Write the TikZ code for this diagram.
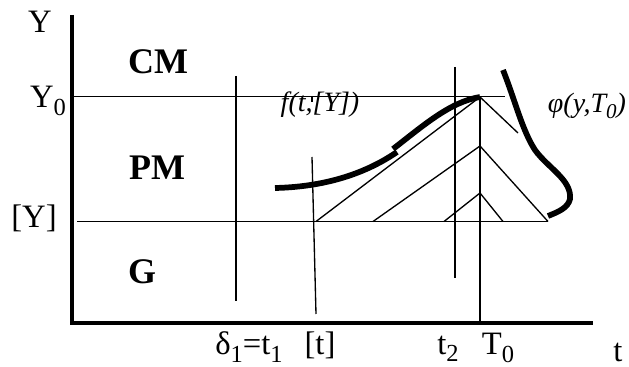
\documentclass[tikz,border=0pt]{standalone}
\usepackage{graphicx}
\usepackage{fontspec}
\setmainfont{Liberation Serif}
\newcommand{\lsub}[1]{\raisebox{-0.22em}{\scalebox{0.75}{#1}}}
\begin{document}
\begin{tikzpicture}[x=0.75pt,y=-0.75pt,
  thinln/.style={line width=1pt},
  axis/.style={line width=2.4pt},
  heavy/.style={line width=4.3pt},
  lbl/.style={inner sep=0pt, font=\fontsize{24.5}{28}\selectfont},
  blbl/.style={inner sep=0pt, font=\fontsize{27}{31}\selectfont\bfseries},
  ilbl/.style={inner sep=0pt, font=\fontsize{21}{25}\selectfont\itshape}]
\useasboundingbox (0,0) rectangle (629,367);
% axes
\coordinate (oy) at (72,15);
\coordinate (o) at (72,323);
\coordinate (ox) at (593,323);
\draw[axis] (oy) -- (o) -- (ox);
% horizontal levels
\coordinate (y0a) at (73,96.5);
\coordinate (y0b) at (505,96.5);
\coordinate (yya) at (77,221.5);
\coordinate (yyb) at (548,221.5);
\draw[thinln] (y0a) -- (y0b);
\draw[thinln] (yya) -- (yyb);
% verticals
\coordinate (d1a) at (236,76);
\coordinate (d1b) at (236,301);
\draw[thinln] (d1a) -- (d1b);
\coordinate (tka) at (312,96);
\coordinate (tkb) at (312,102);
\draw[thinln] (tka) -- (tkb);
\coordinate (tta) at (312,157);
\coordinate (ttb) at (316,314);
\draw[thinln] (tta) -- (ttb);
\coordinate (t2a) at (455,67);
\coordinate (t2b) at (455,278);
\draw[thinln] (t2a) -- (t2b);
\coordinate (apex1) at (480,97);
\coordinate (t0b) at (480,323);
\draw[thinln] (apex1) -- (t0b);
% characteristic lines
\coordinate (l1) at (316,221.5);
\coordinate (r1) at (518,133);
\coordinate (apex2) at (480,146);
\coordinate (l2) at (373,221.5);
\coordinate (r2) at (548,221.5);
\coordinate (apex3) at (480,193);
\coordinate (l3) at (444,221.5);
\coordinate (r3) at (503,221.5);
\draw[thinln] (l1) -- (apex1) -- (r1);
\draw[thinln] (l2) -- (apex2) -- (r2);
\draw[thinln] (l3) -- (apex3) -- (r3);
% thick curve f
\draw[heavy] (275,188) .. controls (320,187) and (362,176) .. (397,152);
\draw[heavy] (393,149) .. controls (424,125) and (450,102) .. (480,97);
% thick curve phi
\draw[heavy] (503,70) .. controls (515,100) and (522,130) .. (535,150)
  .. controls (548,168) and (572,180) .. (570,199)
  .. controls (568,208) and (558,212) .. (548,216);
% labels
\node[lbl] (lY) at (40,22) {Y};
\node[blbl] (lCM) at (158,62) {CM};
\node[lbl] (lY0) at (48,101) {Y\lsub{0}};
\node[blbl] (lPM) at (157,168) {PM};
\node[lbl] (lYY) at (34,218) {[Y]};
\node[blbl] (lG) at (142,272) {G};
\node[lbl] (ld1) at (249,347) {δ\lsub{1}=t\lsub{1}};
\node[lbl] (lt) at (320,345) {[t]};
\node[lbl] (lt2) at (448,349) {t\lsub{2}};
\node[lbl] (lT0) at (498,348) {T\lsub{0}};
\node[lbl] (ltt) at (618,352) {t};
\node[ilbl] (lf) at (320,105) {f(t,[Y])};
\node[ilbl] (lphi) at (587,106) {φ(y,T\lsub{0})};
\end{tikzpicture}
\end{document}
